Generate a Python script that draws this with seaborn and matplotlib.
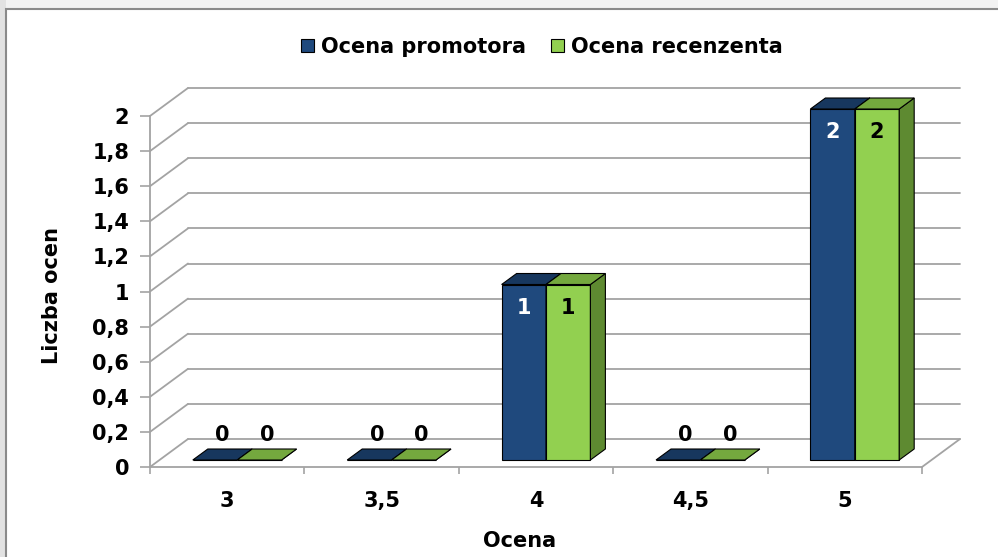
import pandas as pd
import numpy as np
import matplotlib
matplotlib.use("Agg")
import matplotlib.pyplot as plt
from matplotlib.patches import Polygon, Patch, Rectangle
import seaborn as sns

# Dane wykresu
oceny = ['3', '3,5', '4', '4,5', '5']
promotor = [0, 0, 1, 0, 2]
recenzent = [0, 0, 1, 0, 2]
serie = ['Ocena promotora', 'Ocena recenzenta']
y_ticks = [0, 0.2, 0.4, 0.6, 0.8, 1, 1.2, 1.4, 1.6, 1.8, 2]
y_labels = ['0', '0,2', '0,4', '0,6', '0,8', '1', '1,2', '1,4', '1,6', '1,8', '2']

df = pd.DataFrame({
    'Ocena': oceny * 2,
    'Seria': [serie[0]] * len(oceny) + [serie[1]] * len(oceny),
    'Liczba': promotor + recenzent,
})

sns.set_style("white")
plt.rcParams['font.family'] = ['DejaVu Sans']
plt.rcParams['font.weight'] = 'bold'
plt.rcParams['text.color'] = 'black'
plt.rcParams['xtick.labelcolor'] = 'black'
plt.rcParams['ytick.labelcolor'] = 'black'

rozmiar = 15
kolor_front = {serie[0]: '#1F497D', serie[1]: '#92D050'}
kolor_gora = ['#17375E', '#74A83E']
kolor_bok = ['#15325A', '#5E8A31']
kolor_tekstu = ['white', 'black']
siatka = '#A3A3A3'

fig = plt.figure(figsize=(9.98, 5.57), dpi=100)
# ramka obszaru wykresu
fig.patches.append(Rectangle((0, 1 - 9 / 557), 1, 9 / 557, transform=fig.transFigure,
                             facecolor='#F2F2F2', edgecolor='none', zorder=0))
fig.patches.append(Rectangle((0, 0), 6 / 998, 1, transform=fig.transFigure,
                             facecolor='#E2E2E2', edgecolor='none', zorder=0))
fig.patches.append(Rectangle((6 / 998, -0.02), 1.0, (557 - 9) / 557 + 0.02,
                             transform=fig.transFigure, fill=False,
                             edgecolor='#8A8A8A', lw=1.5, zorder=1))

ax = fig.add_axes([150 / 998, 90 / 557, 772 / 998, 351 / 557])
sns.barplot(data=df, x='Ocena', y='Liczba', hue='Seria', hue_order=serie,
            order=oceny, palette=kolor_front, width=0.575, gap=0, saturation=1,
            errorbar=None, edgecolor='black', linewidth=0.8, legend=False, ax=ax)

ax.set_xlim(-0.5, len(oceny) - 0.5)
ax.set_ylim(0, 2)
ax.set_xlabel('')
ax.set_ylabel('')

# przeliczenie pikseli na jednostki danych (efekt 3D)
sx = (ax.get_xlim()[1] - ax.get_xlim()[0]) / ax.bbox.width
sy = (ax.get_ylim()[1] - ax.get_ylim()[0]) / ax.bbox.height
sciana_dx, sciana_dy = 38 * sx, 28 * sy
slup_dx, slup_dy = 15 * sx, 11 * sy
przes_x, przes_y = 10 * sx, 7 * sy

# tylna ściana i podłoga
x0, x1 = ax.get_xlim()
for v in y_ticks:
    ax.plot([x0, x0 + sciana_dx], [v, v + sciana_dy], color=siatka, lw=1.3,
            clip_on=False, zorder=0.5)
    ax.plot([x0 + sciana_dx, x1 + sciana_dx], [v + sciana_dy] * 2, color=siatka,
            lw=1.3, clip_on=False, zorder=0.5)
ax.plot([x1, x1 + sciana_dx], [0, sciana_dy], color=siatka, lw=1.3,
        clip_on=False, zorder=0.5)

# słupki 3D
slupki = list(ax.patches)
for i, p in enumerate(slupki):
    h_idx = i // len(oceny)
    x = p.get_x() + przes_x
    w = p.get_width()
    h = p.get_height()
    y0 = przes_y
    top = y0 + h
    p.set_x(x)
    p.set_y(y0)
    p.set_zorder(3 + h_idx)
    p.set_clip_on(False)
    gora = Polygon([(x, top), (x + w, top), (x + w + slup_dx, top + slup_dy),
                    (x + slup_dx, top + slup_dy)], closed=True,
                   facecolor=kolor_gora[h_idx], edgecolor='black', lw=0.8,
                   zorder=3.1 + h_idx, clip_on=False)
    bok = Polygon([(x + w, y0), (x + w + slup_dx, y0 + slup_dy),
                   (x + w + slup_dx, top + slup_dy), (x + w, top)], closed=True,
                  facecolor=kolor_bok[h_idx], edgecolor='black', lw=0.8,
                  zorder=3.05 + h_idx, clip_on=False)
    ax.add_patch(bok)
    ax.add_patch(gora)
    if h == 0:
        ax.text(x + w / 2 + slup_dx / 2, top + 25 * sy, '0', ha='center',
                va='center', fontsize=rozmiar, fontweight='bold', color='black',
                zorder=10)
    else:
        ax.text(x + w / 2, top - 23 * sy, f'{h:g}', ha='center', va='center',
                fontsize=rozmiar, fontweight='bold', color=kolor_tekstu[h_idx],
                zorder=10)

# osie
sns.despine(ax=ax)
for s in ['left', 'bottom']:
    ax.spines[s].set_color(siatka)
    ax.spines[s].set_linewidth(1.3)
ax.set_yticks(y_ticks)
ax.set_yticklabels(y_labels)
ax.set_xticks(range(len(oceny)))
ax.set_xticklabels(oceny)
ax.set_xticks(np.arange(-0.5, len(oceny), 1), minor=True)
ax.tick_params(axis='y', left=True, direction='out', length=7, width=1.2,
               color=siatka, pad=8, labelsize=rozmiar, labelcolor='black')
ax.tick_params(axis='x', which='major', length=0, pad=17, labelsize=rozmiar,
               labelcolor='black')
ax.tick_params(axis='x', which='minor', bottom=True, direction='out', length=5,
               width=1.2, color=siatka)
for t in ax.get_xticklabels() + ax.get_yticklabels():
    t.set_fontweight('bold')

fig.text(520 / 998, 1 - 541 / 557, 'Ocena', ha='center', va='center',
         fontsize=rozmiar, fontweight='bold', color='black')
fig.text(52 / 998, 1 - 296 / 557, 'Liczba ocen', ha='center', va='center',
         rotation=90, fontsize=rozmiar, fontweight='bold', color='black')

uchwyty = [Patch(facecolor=kolor_front[s], edgecolor='black', lw=0.8) for s in serie]
fig.legend(uchwyty, serie, loc='center', bbox_to_anchor=(542 / 998, 1 - 47 / 557),
           ncol=2, frameon=False, handlelength=0.6, handleheight=0.6,
           handletextpad=0.35, columnspacing=1.2, labelcolor='black',
           prop={'weight': 'bold', 'size': rozmiar})

fig.savefig('out.png', dpi=100)
